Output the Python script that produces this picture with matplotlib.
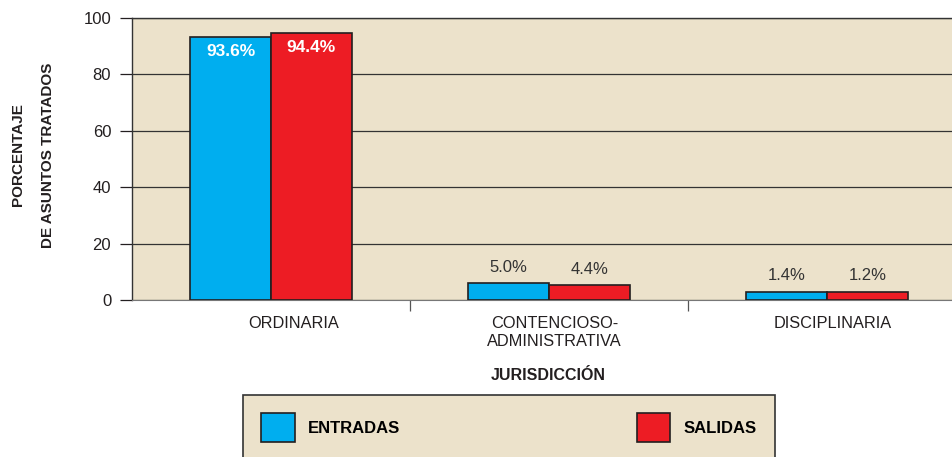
import matplotlib
matplotlib.use("Agg")
import matplotlib.pyplot as plt
from matplotlib.patches import Patch
import numpy as np

plt.rcParams['font.family'] = ['Liberation Sans Narrow', 'Liberation Sans', 'DejaVu Sans']

# data (bar heights as drawn, labels as printed)
categories = ['ORDINARIA', 'CONTENCIOSO-\nADMINISTRATIVA', 'DISCIPLINARIA']
entradas = [93.3, 6.0, 2.9]
salidas = [94.6, 5.3, 2.9]
entradas_lbl = ['93.6%', '5.0%', '1.4%']
salidas_lbl = ['94.4%', '4.4%', '1.2%']
series = ['ENTRADAS', 'SALIDAS']

bg = '#ECE2CB'
blue = '#00AEEF'
red = '#ED1C24'
edge = '#231F20'

fig = plt.figure(figsize=(9.53, 4.57), dpi=100)
ax = fig.add_axes([132 / 953, 157 / 457, 834 / 953, 282 / 457])
ax.set_facecolor(bg)

x = np.arange(len(categories))
w = 0.29
b1 = ax.bar(x - w / 2, entradas, w, color=blue, edgecolor=edge, linewidth=1.2, zorder=3)
b2 = ax.bar(x + w / 2, salidas, w, color=red, edgecolor=edge, linewidth=1.2, zorder=3)

for bars, lbls in ((b1, entradas_lbl), (b2, salidas_lbl)):
    for i, (r, t) in enumerate(zip(bars, lbls)):
        cx = r.get_x() + r.get_width() / 2
        if i == 0:
            ax.text(cx, r.get_height() - 2.5, t, ha='center', va='top', color='white',
                    fontsize=12.5, fontweight='bold', zorder=4)
        else:
            ax.text(cx, r.get_height() + 3.0, t, ha='center', va='bottom', color='#333333',
                    fontsize=12, zorder=4)

ax.set_xlim(-0.5, 2.5)
ax.set_ylim(0, 100)
ax.set_yticks(range(0, 101, 20))
ax.yaxis.grid(True, color='#333333', linewidth=0.9, zorder=1)
ax.tick_params(axis='y', direction='out', length=9, width=0.9, labelsize=12, pad=6, colors='#231F20')
ax.set_xticks([0.5, 1.5])
ax.set_xticklabels([])
ax.tick_params(axis='x', direction='out', length=8, width=0.9, colors='#555555')
for i, c in enumerate(categories):
    ax.text(i + (0.08 if i == 0 else 0.02), -5.5, c, ha='center', va='top', fontsize=11.8,
            color='#231F20', linespacing=1.3, transform=ax.transData)

for s in ['left', 'top']:
    ax.spines[s].set_color('#333333')
    ax.spines[s].set_linewidth(1.0)
ax.spines['bottom'].set_color('#777777')
ax.spines['right'].set_visible(False)

fig.text(548 / 953, 1 - 376 / 457, 'JURISDICCIÓN', ha='center', va='center',
         fontsize=11.5, fontweight='bold', color='#231F20')
fig.text(33 / 953, 1 - 155 / 457, 'PORCENTAJE\nDE ASUNTOS TRATADOS', ha='center', va='center',
         rotation=90, fontsize=11, fontweight='bold', color='#231F20', linespacing=2.5)

handles = [Patch(facecolor=blue, edgecolor=edge, linewidth=1.2),
           Patch(facecolor=red, edgecolor=edge, linewidth=1.2)]
leg = fig.legend(handles, series, loc='upper left', ncol=2, mode='expand',
                 bbox_to_anchor=(243 / 953, 1 - 395 / 457, 532 / 953, 0.0),
                 bbox_transform=fig.transFigure, prop={'weight': 'bold', 'size': 12},
                 handlelength=2.0, handleheight=2.3, handletextpad=0.8,
                 borderpad=1.1, borderaxespad=0, fancybox=False, framealpha=1)
leg.get_frame().set_facecolor(bg)
leg.get_frame().set_edgecolor('#333333')
leg.get_frame().set_linewidth(1.2)

fig.savefig('out.png', dpi=100, facecolor='white')
